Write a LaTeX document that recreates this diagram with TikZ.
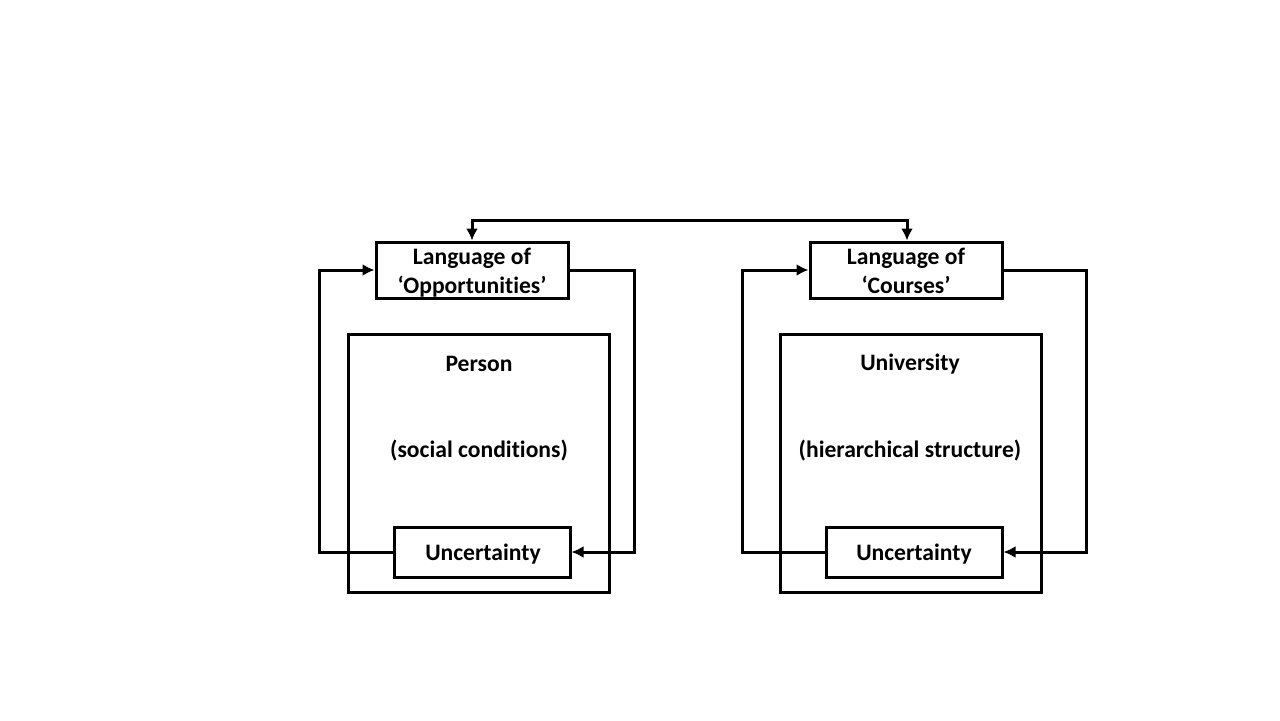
\documentclass[tikz,border=0pt]{standalone}
\usepackage{fontspec}
\setmainfont{Carlito}[Ligatures=NoCommon]
\usetikzlibrary{arrows.meta}
\begin{document}
\begin{tikzpicture}[x=0.5pt,y=-0.5pt,
  every node/.style={font=\fontsize{11.8pt}{14.5pt}\selectfont\bfseries, inner sep=0pt, align=center},
  box/.style={draw, line width=1.5pt, fill=white},
  conn/.style={line width=1.5pt, -{Latex[length=6pt,width=6pt]}},
  conn2/.style={line width=1.5pt, {Latex[length=6pt,width=6pt]}-{Latex[length=6pt,width=6pt]}}]
\useasboundingbox[fill=white] (0,0) rectangle (1280,720);
% big boxes
\node[box, minimum width=130.5pt, minimum height=129pt] (person) at (478.5,463) {};
\node[box, minimum width=130.5pt, minimum height=129pt] (univ) at (910.5,463) {};
\node (personlbl) at (479,364) {Person};
\node (personsub) at (479,451) {(social conditions)};
\node (univlbl) at (910,364) {University};
\node (univsub) at (910,451) {(hierarchical structure)};
% language boxes
\node[box, minimum width=96pt, minimum height=28pt] (lopp) at (472,270) {};
\node (lopptxt) at (472,273) {Language of\\‘Opportunities’};
\node[box, minimum width=96pt, minimum height=28pt] (lcour) at (906,270) {};
\node (lcourtxt) at (906,273) {Language of\\‘Courses’\vphantom{p}};
% uncertainty boxes
\node[box, minimum width=88pt, minimum height=25pt] (uncl) at (482,552) {};
\node (uncltxt) at (483,554) {Uncertainty};
\node[box, minimum width=88pt, minimum height=25pt] (uncr) at (914,552) {};
\node (uncrtxt) at (914,554) {Uncertainty};
% connectors
\coordinate (tl) at (472,220);
\coordinate (tr) at (907,220);
\draw[conn2] (lopp.north) -- (tl) -- (tr) -- (lcour.north -| tr);
\draw[conn] (uncl.west) -- (319,552) -- (319,270) -- (lopp.west);
\draw[conn] (lopp.east) -- (634,270) -- (634,552) -- (uncl.east);
\draw[conn] (uncr.west) -- (742,552) -- (742,270) -- (lcour.west);
\draw[conn] (lcour.east) -- (1086,270) -- (1086,552) -- (uncr.east);
\end{tikzpicture}
\end{document}
